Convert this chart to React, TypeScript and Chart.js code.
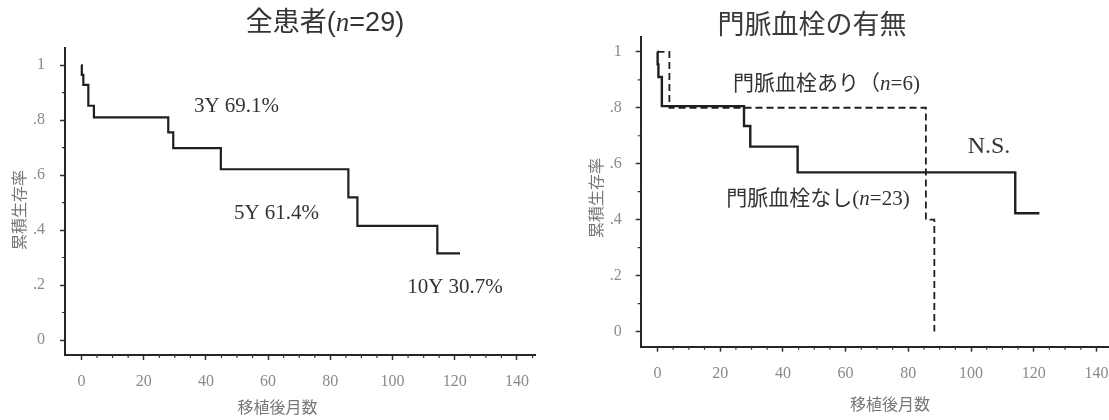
import { useEffect, useRef } from 'react';
import { Chart, registerables } from 'chart.js';

Chart.register(...registerables);

// ---- tick labels ----
const X_TICKS = [0, 20, 40, 60, 80, 100, 120, 140];
const Y_TICKS = [0, 0.2, 0.4, 0.6, 0.8, 1];
const Y_TICK_LABELS = ['0', '.2', '.4', '.6', '.8', '1'];

// ---- 全患者 (n=29): event times (months) and survival after each step ----
const ALL_TIMES = [0, 0.1, 0.6, 2.2, 4.0, 27.9, 29.5, 44.8, 85.8, 88.7, 114.4];
const ALL_SURV = [1, 0.964, 0.928, 0.852, 0.81, 0.755, 0.698, 0.621, 0.519, 0.415, 0.315];
const ALL_LAST_FOLLOWUP = 121.7;

// ---- 門脈血栓なし (n=23) ----
const NO_PVT_TIMES = [0, 0.05, 0.3, 1.4, 27.6, 29.6, 44.7, 114.1];
const NO_PVT_SURV = [1, 0.955, 0.91, 0.806, 0.735, 0.661, 0.569, 0.423];
const NO_PVT_LAST_FOLLOWUP = 121.8;

// ---- 門脈血栓あり (n=6) ----
const PVT_TIMES = [0, 3.8, 85.6, 88.3];
const PVT_SURV = [1, 0.8, 0.4, 0];

const SERIF = "'Liberation Serif', 'Noto Sans CJK JP', serif";
const SANS = "'Liberation Sans', 'Noto Sans CJK JP', sans-serif";
const CJK = "'Noto Sans CJK JP', sans-serif";

function kmPoints(times: number[], surv: number[], last?: number) {
  const pts = times.map((t, i) => ({ x: t, y: surv[i] }));
  if (last !== undefined) pts.push({ x: last, y: surv[surv.length - 1] });
  return pts;
}

type Part = { text: string; font: string };
type TextItem = { parts: Part[]; x: number; y: number; color: string; rotate?: number };

function makeTextPlugin(items: TextItem[]) {
  return {
    id: 'texts',
    afterDraw(chart: any) {
      const ctx = chart.ctx as CanvasRenderingContext2D;
      for (const item of items) {
        ctx.save();
        ctx.fillStyle = item.color;
        ctx.textBaseline = 'middle';
        ctx.textAlign = 'left';
        let total = 0;
        const widths = item.parts.map((p) => {
          ctx.font = p.font;
          const w = ctx.measureText(p.text).width;
          total += w;
          return w;
        });
        ctx.translate(item.x, item.y);
        if (item.rotate) ctx.rotate(item.rotate);
        let x = -total / 2;
        item.parts.forEach((p, i) => {
          ctx.font = p.font;
          ctx.fillText(p.text, x, 0);
          x += widths[i];
        });
        ctx.restore();
      }
    },
  };
}

const minorTicks = {
  id: 'minorTicks',
  afterDraw(chart: any) {
    const { ctx, chartArea } = chart;
    const xs = chart.scales.x;
    const ys = chart.scales.y;
    ctx.save();
    ctx.strokeStyle = '#333';
    ctx.lineWidth = 1.2;
    ctx.beginPath();
    for (let v = 5; v <= xs.max; v += 5) {
      if (v % 20 === 0) continue;
      const px = xs.getPixelForValue(v);
      ctx.moveTo(px, chartArea.bottom);
      ctx.lineTo(px, chartArea.bottom + 3);
    }
    for (let k = 1; k <= 9; k += 2) {
      const py = ys.getPixelForValue(k / 10);
      ctx.moveTo(chartArea.left, py);
      ctx.lineTo(chartArea.left - 3, py);
    }
    ctx.stroke();
    ctx.restore();
  },
};

type Cfg = {
  datasets: any[];
  xMin: number;
  xMax: number;
  yMin: number;
  yMax: number;
  padRight: number;
  padTop: number;
  yWidth: number;
  xHeight: number;
  yTickPad: number;
  xTickPad: number;
  texts: TextItem[];
};

function buildConfig(c: Cfg): any {
  return {
    type: 'line',
    data: { datasets: c.datasets },
    options: {
      responsive: false,
      animation: false,
      events: [],
      layout: { padding: { left: 0, right: c.padRight, top: c.padTop, bottom: 0 } },
      plugins: { legend: { display: false }, title: { display: false }, tooltip: { enabled: false } },
      elements: { point: { radius: 0 }, line: { tension: 0 } },
      scales: {
        x: {
          type: 'linear',
          min: c.xMin,
          max: c.xMax,
          afterBuildTicks: (s: any) => {
            s.ticks = X_TICKS.map((v) => ({ value: v }));
          },
          afterFit: (s: any) => {
            s.height = c.xHeight;
            s.paddingLeft = 0;
            s.paddingRight = 0;
          },
          ticks: {
            maxRotation: 0,
            autoSkip: false,
            padding: c.xTickPad,
            color: '#8a8a8a',
            font: { family: SERIF, size: 16 },
          },
          grid: { display: true, drawOnChartArea: false, drawTicks: true, tickLength: 5, tickColor: '#333', tickWidth: 1.5 },
          border: { display: true, color: '#262626', width: 2 },
        },
        y: {
          type: 'linear',
          min: c.yMin,
          max: c.yMax,
          afterBuildTicks: (s: any) => {
            s.ticks = Y_TICKS.map((v) => ({ value: v }));
          },
          afterFit: (s: any) => {
            s.width = c.yWidth;
            s.paddingTop = 0;
            s.paddingBottom = 0;
          },
          ticks: {
            autoSkip: false,
            padding: c.yTickPad,
            color: '#8a8a8a',
            font: { family: SERIF, size: 16 },
            callback: (value: number) => {
              const i = Y_TICKS.findIndex((t) => Math.abs(t - value) < 1e-9);
              return i >= 0 ? Y_TICK_LABELS[i] : '';
            },
          },
          grid: { display: true, drawOnChartArea: false, drawTicks: true, tickLength: 5, tickColor: '#333', tickWidth: 1.5 },
          border: { display: true, color: '#262626', width: 2 },
        },
      },
    },
    plugins: [minorTicks, makeTextPlugin(c.texts)],
  };
}

function KMChart({ width, height, cfg }: { width: number; height: number; cfg: () => any }) {
  const ref = useRef<HTMLCanvasElement | null>(null);
  useEffect(() => {
    if (!ref.current) return;
    const chart = new Chart(ref.current, cfg());
    return () => chart.destroy();
  }, []);
  return <canvas ref={ref} width={width} height={height} style={{ width, height, display: 'block' }} />;
}

const LINE = '#1e1e1e';
const AXIS_TITLE = '#777';

const leftCfg = () =>
  buildConfig({
    datasets: [
      {
        label: '全患者',
        data: kmPoints(ALL_TIMES, ALL_SURV, ALL_LAST_FOLLOWUP),
        stepped: 'before',
        borderColor: LINE,
        borderWidth: 2.2,
        fill: false,
      },
    ],
    xMin: -5.3,
    xMax: 145.8,
    yMin: -0.0545,
    yMax: 1.062,
    padRight: 20,
    padTop: 48,
    yWidth: 65,
    xHeight: 65,
    yTickPad: 15,
    xTickPad: 12,
    texts: [
      {
        parts: [
          { text: '全患者(', font: `27px ${SANS}` },
          { text: 'n', font: `italic 27px ${SERIF}` },
          { text: '=29)', font: `27px ${SANS}` },
        ],
        x: 325,
        y: 23.5,
        color: '#333',
      },
      { parts: [{ text: '3Y 69.1%', font: `21px ${SERIF}` }], x: 236.5, y: 106.7, color: '#333' },
      { parts: [{ text: '5Y 61.4%', font: `21px ${SERIF}` }], x: 276.5, y: 213, color: '#333' },
      { parts: [{ text: '10Y 30.7%', font: `21px ${SERIF}` }], x: 455, y: 287, color: '#333' },
      { parts: [{ text: '移植後月数', font: `16px ${CJK}` }], x: 277.5, y: 407, color: AXIS_TITLE },
      { parts: [{ text: '累積生存率', font: `16px ${CJK}` }], x: 19, y: 210, color: AXIS_TITLE, rotate: -Math.PI / 2 },
    ],
  });

const rightCfg = () =>
  buildConfig({
    datasets: [
      {
        label: '門脈血栓なし',
        data: kmPoints(NO_PVT_TIMES, NO_PVT_SURV, NO_PVT_LAST_FOLLOWUP),
        stepped: 'before',
        borderColor: LINE,
        borderWidth: 2.4,
        fill: false,
      },
      {
        label: '門脈血栓あり',
        data: kmPoints(PVT_TIMES, PVT_SURV),
        stepped: 'before',
        borderColor: LINE,
        borderWidth: 1.8,
        borderDash: [7, 4],
        fill: false,
      },
    ],
    xMin: -5.35,
    xMax: 144,
    yMin: -0.054,
    yMax: 1.054,
    padRight: 0,
    padTop: 36.7,
    yWidth: 85.7,
    xHeight: 73.3,
    yTickPad: 14,
    xTickPad: 12,
    texts: [
      { parts: [{ text: '門脈血栓の有無', font: `27px ${CJK}` }], x: 257, y: 23.5, color: '#3a3a3a' },
      {
        parts: [
          { text: '門脈血栓あり（', font: `21px ${SERIF}` },
          { text: 'n', font: `italic 21px ${SERIF}` },
          { text: '=6)', font: `21px ${SERIF}` },
        ],
        x: 271.5,
        y: 84,
        color: '#333',
      },
      {
        parts: [
          { text: '門脈血栓なし(', font: `21px ${SERIF}` },
          { text: 'n', font: `italic 21px ${SERIF}` },
          { text: '=23)', font: `21px ${SERIF}` },
        ],
        x: 263,
        y: 199,
        color: '#333',
      },
      { parts: [{ text: 'N.S.', font: `24px ${SERIF}` }], x: 434, y: 147, color: '#333' },
      { parts: [{ text: '移植後月数', font: `16px ${CJK}` }], x: 335, y: 404, color: AXIS_TITLE },
      { parts: [{ text: '累積生存率', font: `16px ${CJK}` }], x: 41, y: 198, color: AXIS_TITLE, rotate: -Math.PI / 2 },
    ],
  });

export default function App() {
  return (
    <div
      style={{
        position: 'absolute',
        left: 0,
        top: 0,
        width: 1109,
        height: 420,
        background: '#fff',
        display: 'flex',
        overflow: 'hidden',
      }}
    >
      <KMChart width={555} height={420} cfg={leftCfg} />
      <KMChart width={554} height={420} cfg={rightCfg} />
    </div>
  );
}
